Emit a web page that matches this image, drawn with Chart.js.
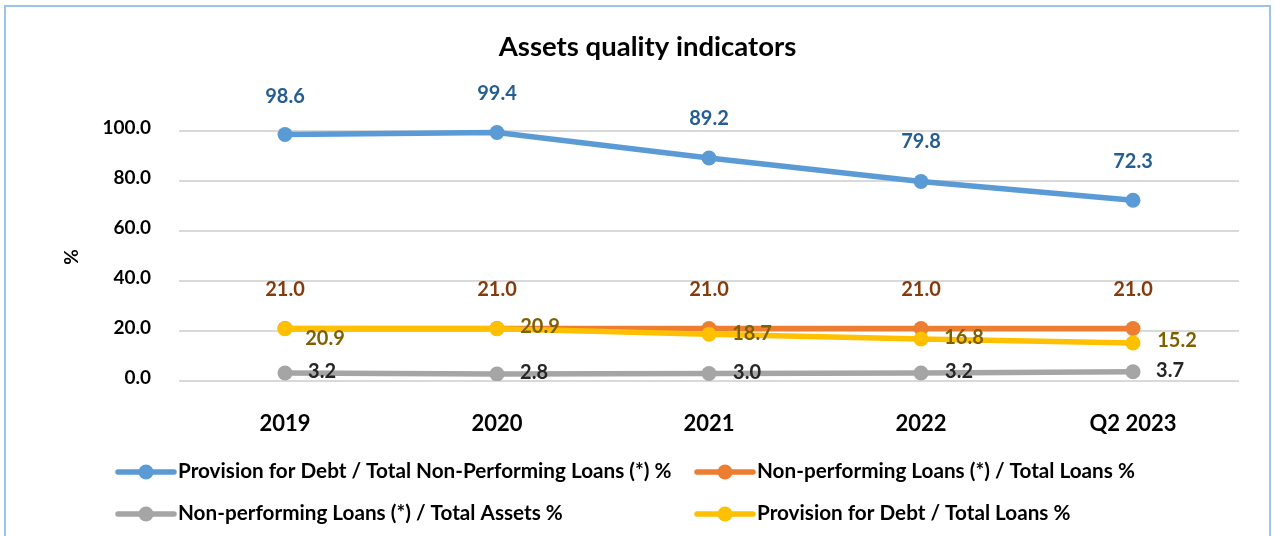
<!DOCTYPE html>
<html lang="en">
<head>
  <meta charset="UTF-8" />
  <title>Assets quality indicators</title>
  <script src="https://cdn.jsdelivr.net/npm/chart.js"></script>
  <style>
    * { margin: 0; padding: 0; box-sizing: border-box; }
    html, body { width: 1275px; height: 536px; background: #fff; overflow: hidden; }
    .frame { position: absolute; left: 4px; top: 5px; width: 1267px; height: 560px; border: 2px solid #9dc3e6; }
    .wrap { position: absolute; left: 0; top: 0; width: 1275px; height: 536px; }
  </style>
</head>
<body>
  <div class="frame"></div>
  <div class="wrap"><canvas id="qualityChart" width="1275" height="536"></canvas></div>

  <script>
    const FONT = "Lato, 'Noto Sans', sans-serif";

    // data
    const categories = ['2019', '2020', '2021', '2022', 'Q2 2023'];
    const provisionNplPct = [98.6, 99.4, 89.2, 79.8, 72.3];
    const nplLoansPct = [21.0, 21.0, 21.0, 21.0, 21.0];
    const nplAssetsPct = [3.2, 2.8, 3.0, 3.2, 3.7];
    const provisionLoansPct = [20.9, 20.9, 18.7, 16.8, 15.2];
    const yTicks = [0, 20, 40, 60, 80, 100];

    const seriesNames = [
      'Provision for Debt / Total Non-Performing Loans (*) %',
      'Non-performing Loans (*) / Total Loans %',
      'Non-performing Loans (*) / Total Assets %',
      'Provision for Debt / Total Loans %'
    ];

    function line(label, data, color, order, labelColor, offsets) {
      return {
        label, data, order,
        borderColor: color, backgroundColor: color,
        borderWidth: 5.5, pointRadius: 7.5, pointHoverRadius: 7.5,
        pointBorderWidth: 0, tension: 0, fill: false,
        labelColor, offsets
      };
    }

    const gridPlugin = {
      id: 'grid',
      beforeDatasetsDraw(chart) {
        const { ctx, chartArea, scales: { y } } = chart;
        ctx.save();
        ctx.strokeStyle = '#d9d9d9';
        ctx.lineWidth = 2;
        yTicks.forEach(v => {
          const py = Math.round(y.getPixelForValue(v));
          ctx.beginPath();
          ctx.moveTo(chartArea.left, py);
          ctx.lineTo(chartArea.right, py);
          ctx.stroke();
        });
        // axis title, placed as in the original (a little below the middle)
        ctx.fillStyle = '#000';
        ctx.font = 'bold 19px ' + FONT;
        ctx.textAlign = 'center';
        ctx.textBaseline = 'middle';
        ctx.translate(72, 257);
        ctx.rotate(-Math.PI / 2);
        ctx.fillText('%', 0, 0);
        ctx.restore();
      }
    };

    const labelPlugin = {
      id: 'valueLabels',
      afterDatasetsDraw(chart) {
        const { ctx } = chart;
        ctx.save();
        ctx.font = 'bold 20px ' + FONT;
        ctx.textAlign = 'center';
        ctx.textBaseline = 'middle';
        chart.data.datasets.forEach((ds, i) => {
          const meta = chart.getDatasetMeta(i);
          ctx.fillStyle = ds.labelColor;
          meta.data.forEach((pt, j) => {
            const off = ds.offsets[j];
            ctx.fillText(ds.data[j].toFixed(1), pt.x + off[0], pt.y + off[1]);
          });
        });
        ctx.restore();
      }
    };

    const legendPlugin = {
      id: 'twoRowLegend',
      afterDraw(chart) {
        const { ctx } = chart;
        const slots = [[118, 471], [697, 471], [118, 513], [697, 513]];
        ctx.save();
        ctx.font = 'bold 20.7px ' + FONT;
        ctx.textBaseline = 'middle';
        ctx.textAlign = 'left';
        seriesNames.forEach((name, k) => {
          const ds = chart.data.datasets.find(d => d.label === name);
          const [x, y] = slots[k];
          ctx.strokeStyle = ds.borderColor;
          ctx.fillStyle = ds.borderColor;
          ctx.lineWidth = 5.5;
          ctx.lineCap = 'round';
          ctx.beginPath();
          ctx.moveTo(x, y + 1);
          ctx.lineTo(x + 56, y + 1);
          ctx.stroke();
          ctx.beginPath();
          ctx.arc(x + 28, y + 1, 7.5, 0, Math.PI * 2);
          ctx.fill();
          ctx.fillStyle = '#000';
          ctx.fillText(name, x + 60, y);
        });
        ctx.restore();
      }
    };

    new Chart(document.getElementById('qualityChart'), {
      type: 'line',
      data: {
        labels: categories,
        datasets: [
          line(seriesNames[0], provisionNplPct, '#5b9bd5', 1, '#255e91',
            [[0, -38], [0, -39], [0, -39], [0, -40], [0, -39]]),
          line(seriesNames[3], provisionLoansPct, '#ffc000', 2, '#7f6000',
            [[40, 10], [43, -2], [43, -1], [43, -1], [44, -2]]),
          line(seriesNames[2], nplAssetsPct, '#a5a5a5', 3, '#262626',
            [[37, -1], [37, -1], [38, -1], [38, -1], [37, -1]]),
          line(seriesNames[1], nplLoansPct, '#ed7d31', 4, '#843c0c',
            [[0, -39], [0, -39], [0, -39], [0, -39], [0, -39]])
        ]
      },
      options: {
        responsive: false,
        animation: false,
        events: [],
        layout: { padding: { top: 0, left: 56, right: 36, bottom: 95 } },
        scales: {
          x: {
            offset: true,
            grid: { display: false },
            border: { display: false },
            ticks: { color: '#000', padding: 22, font: { family: FONT, size: 22, weight: 'bold' } },
            afterFit(s) { s.height = 60; }
          },
          y: {
            min: 0, max: 120,
            afterBuildTicks(s) { s.ticks = yTicks.map(v => ({ value: v })); },
            grid: { display: false, drawTicks: false },
            border: { display: false },
            ticks: {
              color: '#000', padding: 28, labelOffset: -3,
              font: { family: FONT, size: 19, weight: 'bold' },
              callback: v => Number(v).toFixed(1)
            },
            afterFit(s) { s.width = 123; }
          }
        },
        plugins: {
          legend: { display: false },
          tooltip: { enabled: false },
          title: {
            display: true,
            text: 'Assets quality indicators',
            color: '#000',
            font: { family: FONT, size: 27.5, weight: 'bold' },
            padding: { top: 31, bottom: 17 }
          }
        }
      },
      plugins: [gridPlugin, labelPlugin, legendPlugin]
    });
  </script>
</body>
</html>
